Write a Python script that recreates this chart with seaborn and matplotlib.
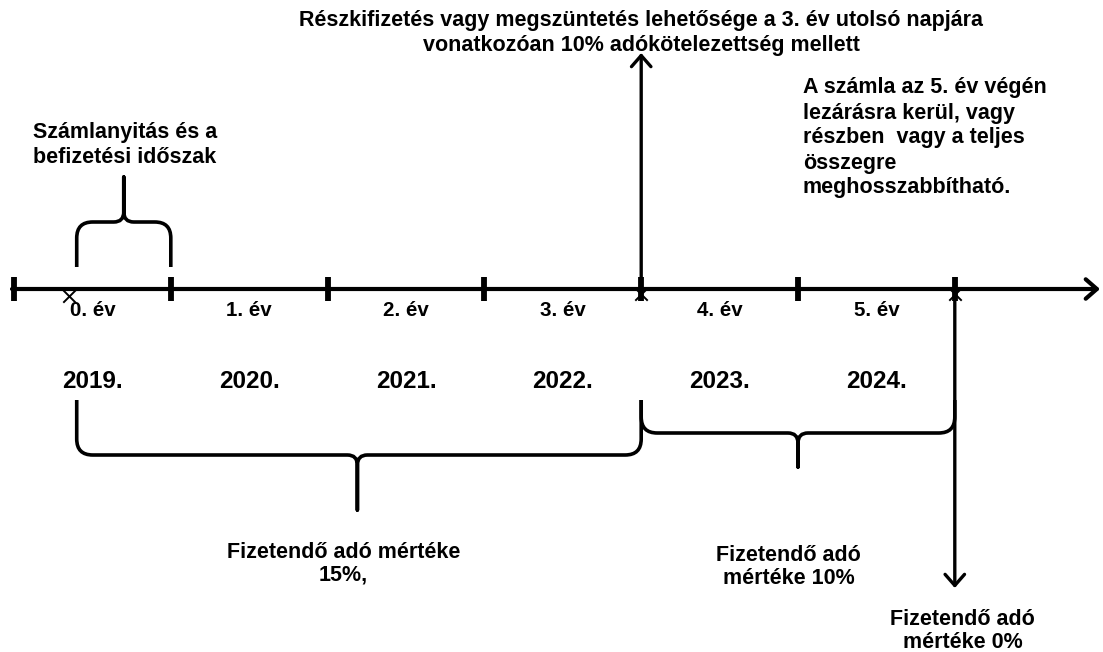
import matplotlib
matplotlib.use("Agg")
import matplotlib.pyplot as plt
from matplotlib.path import Path
from matplotlib.patches import PathPatch
import pandas as pd
import seaborn as sns

# timeline data
year_pos = [0.5, 1.5, 2.5, 3.5, 4.5, 5.5]
year_labels = ['0. év', '1. év', '2. év', '3. év', '4. év', '5. év']
calendar_years = ['2019.', '2020.', '2021.', '2022.', '2023.', '2024.']
boundaries = [0, 1, 2, 3, 4, 5, 6]
x_marks = [0.35, 4, 6]

# braces: (start, end, tip) in years
open_brace = (0.40, 1.0, 0.70)
tax15_brace = (0.40, 4.0, 2.19)
tax10_brace = (4.0, 6.0, 5.0)

top_note = ('Részkifizetés vagy megszüntetés lehetősége a 3. év utolsó napjára\n'
            'vonatkozóan 10% adókötelezettség mellett')
close_note = ('A számla az 5. év végén\nlezárásra kerül, vagy\n'
              'részben  vagy a teljes\nösszegre\nmeghosszabbítható.')
open_note = 'Számlanyitás és a\nbefizetési időszak'
tax15_note = 'Fizetendő adó mértéke\n15%,'
tax10_note = 'Fizetendő adó\nmértéke 10%'
tax0_note = 'Fizetendő adó\nmértéke 0%'

sns.set_theme(style='white')
plt.rcParams['font.family'] = ['Liberation Sans', 'DejaVu Sans']
plt.rcParams['font.weight'] = 'bold'
plt.rcParams['text.color'] = 'black'

px = 156.8  # pixels per year
fig = plt.figure(figsize=(11.03, 6.52), dpi=100)
ax = fig.add_axes([0, 0, 1, 1])
ax.set_xlim(-14 / px, 1089 / px)
ax.set_ylim(652, 0)
ax.axis('off')

line_y = 289
fs = 15.5


def brace(ax, a, b, c, y0, y1, y2, r=16, rc=10):
    rx = r / px
    rcx = rc / px
    s = 1 if y1 > y0 else -1
    t = 1 if y2 > y1 else -1
    verts = [(a, y0), (a, y1 - s * r), (a, y1), (a + rx, y1),
             (c - rcx, y1), (c, y1), (c, y1 + t * rc), (c, y2),
             (c, y1 + t * rc), (c, y1), (c + rcx, y1),
             (b - rx, y1), (b, y1), (b, y1 - s * r), (b, y0)]
    codes = [Path.MOVETO, Path.LINETO, Path.CURVE3, Path.CURVE3,
             Path.LINETO, Path.CURVE3, Path.CURVE3, Path.LINETO,
             Path.LINETO, Path.CURVE3, Path.CURVE3,
             Path.LINETO, Path.CURVE3, Path.CURVE3, Path.LINETO]
    ax.add_patch(PathPatch(Path(verts, codes), fill=False, lw=2.6,
                           color='black', capstyle='butt', joinstyle='round'))


# x marks below the axis
marks = pd.DataFrame({'x': x_marks, 'y': [296, 294, 294]})
sns.scatterplot(data=marks, x='x', y='y', marker='x', s=80, color='black',
                linewidth=1.4, ax=ax, zorder=1, legend=False)

# main axis with arrow
arrow_head = dict(arrowstyle='->,head_length=0.8,head_width=0.7',
                  color='black', shrinkA=0, shrinkB=0, mutation_scale=10)
ax.annotate('', xy=(1100 / px - 14 / px, line_y), xytext=(-2 / px, line_y),
            arrowprops=dict(**arrow_head, lw=3), zorder=3)
ax.vlines(boundaries, 277, 301, color='black', lw=4.2, zorder=4)

# vertical arrows
ax.annotate('', xy=(4, 53), xytext=(4, line_y),
            arrowprops=dict(**arrow_head, lw=2.4), zorder=3)
ax.annotate('', xy=(6, 588), xytext=(6, line_y),
            arrowprops=dict(**arrow_head, lw=2.4), zorder=3)

for x, lab, yr in zip(year_pos, year_labels, calendar_years):
    ax.text(x, 311, lab, ha='center', va='center', fontsize=fs * 0.95,
            fontweight='bold')
    ax.text(x, 381, yr, ha='center', va='center', fontsize=17.5,
            fontweight='bold')

brace(ax, *open_brace, y0=267, y1=222, y2=177)
brace(ax, *tax15_brace, y0=400, y1=455, y2=510)
brace(ax, *tax10_brace, y0=400, y1=433, y2=467)

ax.text(4.0, 33, top_note, ha='center', va='center', fontsize=fs,
        fontweight='bold', linespacing=1.25)
ax.text(5.03, 138, close_note, ha='left', va='center', fontsize=fs,
        fontweight='bold', linespacing=1.25)
ax.text(0.121, 145, open_note, ha='left', va='center', fontsize=fs,
        fontweight='bold', linespacing=1.2)
ax.text(2.10, 564, tax15_note, ha='center', va='center', fontsize=fs,
        fontweight='bold', linespacing=1.1)
ax.text(4.94, 567, tax10_note, ha='center', va='center', fontsize=fs,
        fontweight='bold', linespacing=1.1)
ax.text(6.05, 631, tax0_note, ha='center', va='center', fontsize=fs,
        fontweight='bold', linespacing=1.1)

fig.savefig('out.png', dpi=100, facecolor='white')
